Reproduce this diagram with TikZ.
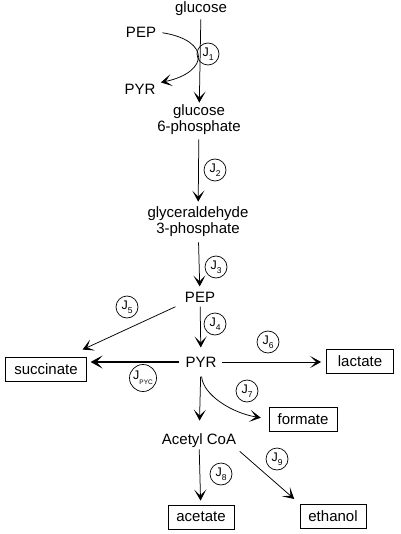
\documentclass[tikz,border=0pt]{standalone}
\usepackage{fontspec}
\setmainfont{Liberation Sans}
\usetikzlibrary{arrows.meta}

\newcommand{\jflux}[1]{J\raisebox{-0.55ex}{\fontsize{8.5}{8.5}\selectfont #1}}

\begin{document}
\begin{tikzpicture}[x=1pt,y=-1pt,
        font=\fontsize{15}{16}\selectfont,
        ->,-{Stealth[length=11pt,width=12pt,inset=6pt]},
        line width=0.75pt,
        metNode/.style = {inner sep=1pt,align=center},
        boxNode/.style = {draw,inner xsep=8.5pt,inner ysep=2pt,minimum height=24pt,line width=0.8pt},
        fluxNode/.style = {shape=circle,draw,minimum size=22pt,inner sep=0pt,line width=0.7pt,font=\fontsize{12.5}{12.5}\selectfont},
        thickArrow/.style = {line width=2.6pt,-{Stealth[length=12pt,width=13pt,inset=6pt]}}
        ]
        \useasboundingbox (0,0) rectangle (400,534);
        % metabolites
        \node[metNode] (glucose) at (201,9) {glucose};
        \node[metNode] (pepTop) at (141,32) {PEP};
        \node[metNode] (pyrTop) at (140,89) {PYR};
        \node[metNode] (g6p) at (199,120) {glucose\\6-phosphate};
        \node[metNode] (gap) at (198,222) {glyceraldehyde\\3-phosphate};
        \node[metNode] (pep) at (200,297) {PEP};
        \node[metNode] (pyr) at (201,362) {PYR};
        \node[metNode] (acCoA) at (199,441) {Acetyl CoA};
        % end products
        \node[boxNode] (succinate) at (46,369) {succinate};
        \node[boxNode,minimum width=67pt] (lactate) at (360,361) {lactate};
        \node[boxNode] (formate) at (303,419) {formate};
        \node[boxNode] (acetate) at (201,517) {acetate};
        \node[boxNode] (ethanol) at (333,516) {ethanol};
        % fluxes
        \node[fluxNode] (j1) at (208,54) {\jflux{1}};
        \node[fluxNode] (j2) at (215,170) {\jflux{2}};
        \node[fluxNode] (j3) at (216,267) {\jflux{3}};
        \node[fluxNode] (j4) at (215,324) {\jflux{4}};
        \node[fluxNode] (j5) at (127,307) {\jflux{5}};
        \node[fluxNode] (j6) at (268,342) {\jflux{6}};
        \node[fluxNode] (j7) at (247,391) {\jflux{7}};
        \node[fluxNode,minimum size=27pt] (jpyc) at (143,378) {J\raisebox{-0.8ex}{\fontsize{6.5}{6.5}\selectfont PYC}};
        \node[fluxNode] (j8) at (221,474) {\jflux{8}};
        \node[fluxNode] (j9) at (277,459) {\jflux{9}};
        % reactions
        \draw[shorten <=2pt,shorten >=1pt] (glucose) -- (g6p);
        \draw[shorten <=5pt] (pepTop.east) .. controls (210,40) and (210,72) .. ([xshift=4pt]pyrTop.north east);
        \draw[shorten <=3pt,shorten >=4pt] (g6p) -- (gap);
        \draw[shorten <=4pt,shorten >=4pt] (gap) -- (pep);
        \draw[shorten <=3pt,shorten >=8pt] (pep) -- (pyr);
        \draw[shorten <=9pt] (pep.200) -- ([shift={(-4pt,7pt)}]succinate.north east);
        \draw[thickArrow,shorten <=5pt,shorten >=4pt] (pyr.west) -- (pyr.west -| succinate.east);
        \draw[shorten <=4.5pt,shorten >=5pt] (pyr.east) -- (pyr.east -| lactate.west);
        \draw[shorten <=8pt,shorten >=8pt] (pyr.south) .. controls (203,395) and (232,413) .. (formate.west);
        \draw[shorten <=8pt,shorten >=12pt] (pyr) -- (acCoA);
        \draw[shorten <=0pt,shorten >=4pt] (acCoA) -- (acetate);
        \draw[shorten <=3pt,shorten >=7pt] (acCoA.south east) -- (ethanol.north west);
\end{tikzpicture}
\end{document}
